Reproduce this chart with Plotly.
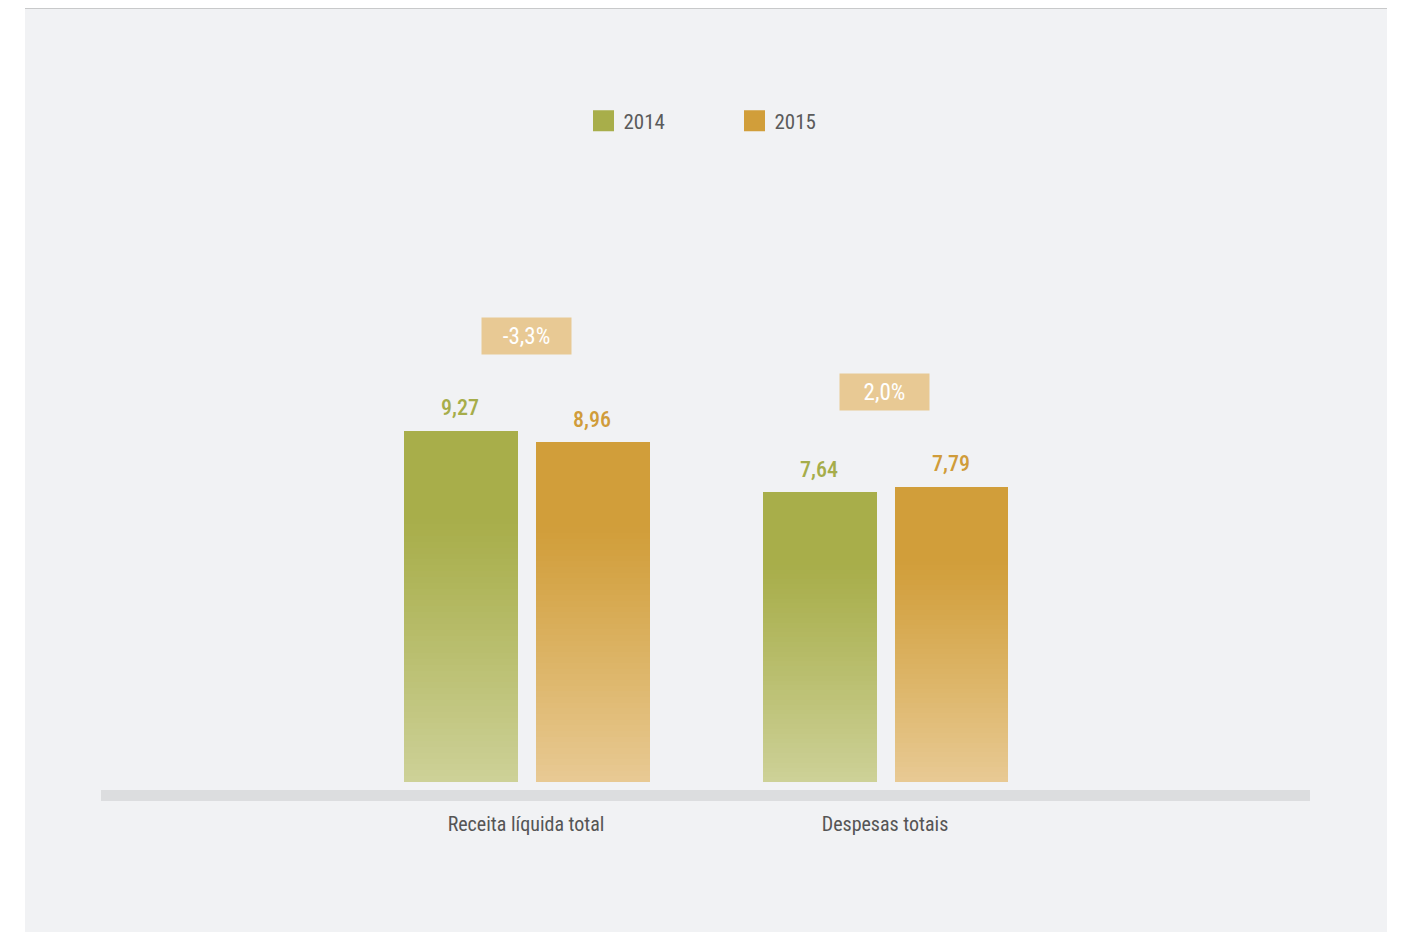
import plotly.graph_objects as go

# ---- data ----
categories = ["Receita líquida total", "Despesas totais"]
series_names = ["2014", "2015"]
values_2014 = [9.27, 7.64]
values_2015 = [8.96, 7.79]
change_labels = ["-3,3%", "2,0%"]

# ---- styling ----
W, H = 1401, 932
PAGE = 8  # browser body margin
M_L, M_R, M_T, M_B = 101 - PAGE, 99, 60 - PAGE, 158
PW = W - M_L - M_R
PH = H - M_T - M_B
PX_PER_UNIT = 37.9
FONT = "Liberation Sans Narrow, Roboto Condensed, Roboto, Arial, sans-serif"

dark = {"2014": (168, 174, 74), "2015": (209, 158, 58)}
light = {"2014": (205, 209, 152), "2015": (232, 202, 148)}
bar_width = 0.3175
offsets = {"2014": -0.341, "2015": 0.0265}
label_color = {"2014": "#a6ad4a", "2015": "#d09c3a"}


def px_x(px):
    # px in reference page coordinates
    return (px - PAGE - M_L) / PW


def px_y(py):
    return (H - M_B - (py - PAGE)) / PH


def mix(c1, c2, t):
    return "rgb(%d,%d,%d)" % tuple(round(a + (b - a) * t) for a, b in zip(c1, c2))


def grad(t):
    # t = 0 at top of bar, 1 at bottom
    s = (t - 0.25) / 0.75
    return max(0.0, min(1.0, s)) ** 1.1


fig = go.Figure()
N = 60
for name, vals in (("2014", values_2014), ("2015", values_2015)):
    for k in range(N):
        frac = 1 - k / N
        t = (k + 0.5) / N
        fig.add_trace(go.Bar(
            x=categories,
            y=[v * frac for v in vals],
            width=bar_width,
            offset=offsets[name],
            marker=dict(color=mix(dark[name], light[name], grad(t)), line=dict(width=0)),
            showlegend=False,
            hoverinfo="skip" if k else "x+name",
            name=name,
        ))
    # legend entry
    fig.add_trace(go.Scatter(
        x=[None], y=[None], mode="markers", name=name,
        marker=dict(symbol="square", size=16, color=mix(dark[name], dark[name], 0),
                    line=dict(width=5, color=mix(dark[name], dark[name], 0))),
    ))

annotations = []
for name, vals in (("2014", values_2014), ("2015", values_2015)):
    shift = -66 if name == "2014" else 66
    for c, v in zip(categories, vals):
        annotations.append(dict(
            x=c, y=v, xref="x", yref="y", text=f"{v:.2f}".replace(".", ","),
            showarrow=False, xshift=shift, yshift=23, yanchor="middle",
            font=dict(family=FONT, size=22, color=label_color[name], weight=500),
        ))
for c, a, b, lab in zip(categories, values_2014, values_2015, change_labels):
    annotations.append(dict(
        x=c, y=max(a, b), xref="x", yref="y", text=lab, showarrow=False,
        yanchor="bottom", yshift=76, width=87, height=34,
        bgcolor="#e8c994", font=dict(family=FONT, size=23, color="white"),
    ))

shapes = [
    dict(type="rect", xref="paper", yref="paper", layer="below",
         x0=px_x(25), x1=px_x(1387), y0=px_y(940), y1=px_y(8),
         fillcolor="#f1f2f4", line=dict(width=0)),
    dict(type="line", xref="paper", yref="paper",
         x0=px_x(25), x1=px_x(1387), y0=px_y(8), y1=px_y(8),
         line=dict(color="#a0a0a0", width=1.2)),
    dict(type="rect", xref="paper", yref="paper",
         x0=0, x1=1, y0=px_y(801), y1=px_y(790),
         fillcolor="#dcdddf", line=dict(width=0)),
]

fig.update_layout(
    width=W, height=H,
    margin=dict(l=M_L, r=M_R, t=M_T, b=M_B),
    paper_bgcolor="white", plot_bgcolor="#f1f2f4",
    barmode="overlay", bargap=0,
    showlegend=True,
    legend=dict(orientation="h", x=0.5 + 29 / PW, xanchor="center", y=px_y(121), yanchor="middle",
                font=dict(family=FONT, size=21, color="#5b5b5b"),
                bgcolor="rgba(0,0,0,0)", entrywidth=106, itemwidth=30),
    xaxis=dict(range=[-1.184, 2.184], showgrid=False, zeroline=False, showline=False,
               ticks="", tickfont=dict(family=FONT, size=20, color="#555555"),
               ticklabelstandoff=28, fixedrange=True),
    yaxis=dict(range=[0, PH / PX_PER_UNIT], visible=False, showgrid=False, zeroline=False,
               fixedrange=True),
    annotations=annotations,
    shapes=shapes,
    font=dict(family=FONT),
)

fig.write_html("out.html")
